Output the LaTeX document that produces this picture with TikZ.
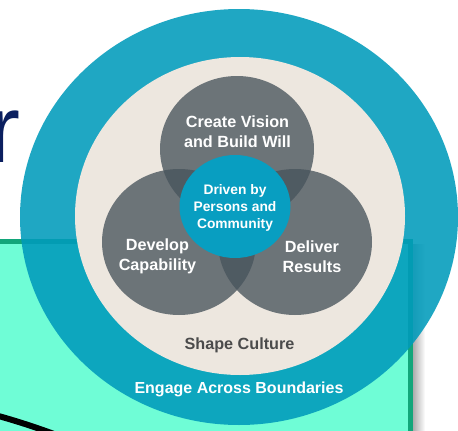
\documentclass[tikz,border=0pt]{standalone}
\usepackage{fontspec}
\setmainfont{Liberation Sans}
\usetikzlibrary{positioning}
\definecolor{ringteal}{RGB}{0,155,187}
\definecolor{coreteal}{RGB}{8,158,193}
\definecolor{sand}{RGB}{237,231,223}
\definecolor{petalgray}{RGB}{72,84,92}
\definecolor{mint}{RGB}{111,253,214}
\definecolor{mintedge}{RGB}{18,166,122}
\definecolor{navy}{RGB}{11,31,95}
\definecolor{darktext}{RGB}{75,75,75}
\newcommand{\lbl}{\bfseries\fontsize{16.2}{19.5}\selectfont}

\begin{document}
\begin{tikzpicture}[x=1pt,y=-1pt,
    label/.style={text=white,font=\lbl,align=center,inner sep=0pt,anchor=base},
    petal/.style={fill=petalgray,fill opacity=0.78}]
    \useasboundingbox (0,0) rectangle (458,431);
    \clip (0,0) rectangle (458,431);
    \fill[white] (0,0) rectangle (458,431);
    % title letter cut by the frame
    \node (title) at (21,162) [anchor=base east,inner sep=0pt,text=navy,font=\fontsize{96}{96}\selectfont] {r};
    % box behind the circle
    \shade[left color=black!35,right color=white] (412,244) rectangle (425,431);
    \draw[line width=4.5pt,fill=mint,draw=mintedge] (-10,241.5) rectangle (410.5,450);
    \coordinate (wireA) at (-20,411);
    \coordinate (wireB) at (80,444);
    \draw[line width=6pt] (wireA) .. controls (15,420) and (45,430) .. (wireB);
    % rings
    \fill[ringteal,fill opacity=0.88] (239,217) ellipse [x radius=219pt,y radius=208pt];
    \fill[sand] (240,216) ellipse [x radius=165pt,y radius=159pt];
    % three petals
    \fill[petal] (237,149) ellipse [x radius=77pt,y radius=73pt];
    \fill[petal] (179,242) ellipse [x radius=77pt,y radius=73pt];
    \fill[petal] (295,242) ellipse [x radius=77pt,y radius=73pt];
    \fill[coreteal] (235,206.5) ellipse [x radius=55.5pt,y radius=51.5pt];
    % labels (base = last line)
    \node (vision) at (237.5,147) [label] {Create Vision\\and Build Will};
    \node (driven) at (235,228) [label,font=\bfseries\fontsize{13.8}{17}\selectfont] {Driven by\\Persons and\\Community};
    \node (capability) at (157.5,270) [label] {Develop\\Capability};
    \node (results) at (312,272) [label] {Deliver\\Results};
    \node (culture) at (239.5,349) [label,text=darktext] {Shape Culture};
    \node (boundaries) at (239,393) [label,font=\bfseries\fontsize{16}{19}\selectfont] {Engage Across Boundaries};
\end{tikzpicture}
\end{document}
